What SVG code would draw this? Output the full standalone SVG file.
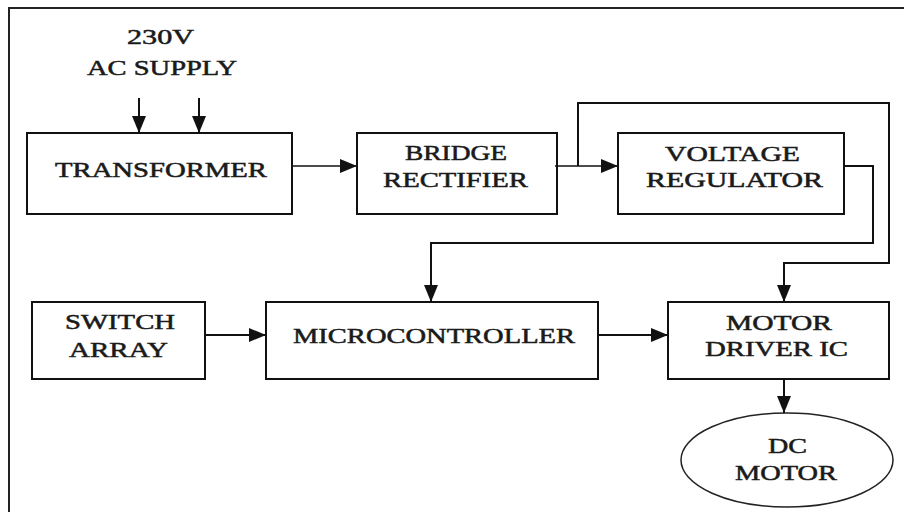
<svg xmlns="http://www.w3.org/2000/svg" width="904" height="512" viewBox="0 0 904 512">
<style>
.box{fill:#fff;stroke:#111;stroke-width:2}
.ln{fill:none;stroke:#111;stroke-width:2}
.t{font-family:"Liberation Serif","Times New Roman",serif;font-size:21px;fill:#1a1a1a;stroke:#1a1a1a;stroke-width:0.5;text-anchor:start}
</style>
<defs>
<marker id="ah" markerUnits="userSpaceOnUse" markerWidth="18" markerHeight="14" refX="17" refY="7" orient="auto">
<path d="M0,0 L17,7 L0,14 z" fill="#111"/>
</marker>
</defs>
<rect width="904" height="512" fill="#fff"/>
<path d="M9,512 V8 H904" fill="none" stroke="#222" stroke-width="2"/>
<g id="supply">
<text class="t" x="127" y="44" textLength="67" lengthAdjust="spacingAndGlyphs">230V</text>
<text class="t" x="87" y="75" textLength="150" lengthAdjust="spacingAndGlyphs">AC SUPPLY</text>
</g>
<g id="transformer">
<rect class="box" x="27" y="133" width="265" height="81"/>
<text class="t" x="55" y="177" textLength="212" lengthAdjust="spacingAndGlyphs">TRANSFORMER</text>
</g>
<g id="bridge">
<rect class="box" x="357" y="133" width="200" height="81"/>
<text class="t" x="405" y="160" textLength="102" lengthAdjust="spacingAndGlyphs">BRIDGE</text>
<text class="t" x="383" y="187" textLength="145" lengthAdjust="spacingAndGlyphs">RECTIFIER</text>
</g>
<g id="regulator">
<rect class="box" x="618" y="133" width="226" height="81"/>
<text class="t" x="665" y="161" textLength="135" lengthAdjust="spacingAndGlyphs">VOLTAGE</text>
<text class="t" x="646" y="187" textLength="177" lengthAdjust="spacingAndGlyphs">REGULATOR</text>
</g>
<g id="switch">
<rect class="box" x="32" y="302" width="173" height="77"/>
<text class="t" x="65" y="329" textLength="110" lengthAdjust="spacingAndGlyphs">SWITCH</text>
<text class="t" x="69" y="357" textLength="99" lengthAdjust="spacingAndGlyphs">ARRAY</text>
</g>
<g id="mcu">
<rect class="box" x="266" y="302" width="332" height="77"/>
<text class="t" x="293" y="343" textLength="282" lengthAdjust="spacingAndGlyphs">MICROCONTROLLER</text>
</g>
<g id="driver">
<rect class="box" x="668" y="302" width="221" height="77"/>
<text class="t" x="726" y="330" textLength="106" lengthAdjust="spacingAndGlyphs">MOTOR</text>
<text class="t" x="705" y="356" textLength="143" lengthAdjust="spacingAndGlyphs">DRIVER IC</text>
</g>
<g id="motor">
<ellipse cx="787" cy="460" rx="106" ry="47" fill="#fff" stroke="#222" stroke-width="1.5"/>
<text class="t" x="768" y="453" textLength="39" lengthAdjust="spacingAndGlyphs">DC</text>
<text class="t" x="735" y="480" textLength="102" lengthAdjust="spacingAndGlyphs">MOTOR</text>
</g>
<g id="connectors">
<path class="ln" d="M139,98 V133" marker-end="url(#ah)"/>
<path class="ln" d="M199,98 V133" marker-end="url(#ah)"/>
<path class="ln" d="M292,166 H357" marker-end="url(#ah)" style="stroke-width:1.5"/>
<path class="ln" d="M555,166 H618" marker-end="url(#ah)" style="stroke-width:1.5"/>
<path class="ln" d="M578,166 V103 H889 V263 H784 V302" marker-end="url(#ah)"/>
<path class="ln" d="M844,166 H873 V243 H431 V302" marker-end="url(#ah)"/>
<path class="ln" d="M205,335 H266" marker-end="url(#ah)"/>
<path class="ln" d="M598,335 H668" marker-end="url(#ah)"/>
<path class="ln" d="M784,379 V413" marker-end="url(#ah)"/>
</g>
</svg>
